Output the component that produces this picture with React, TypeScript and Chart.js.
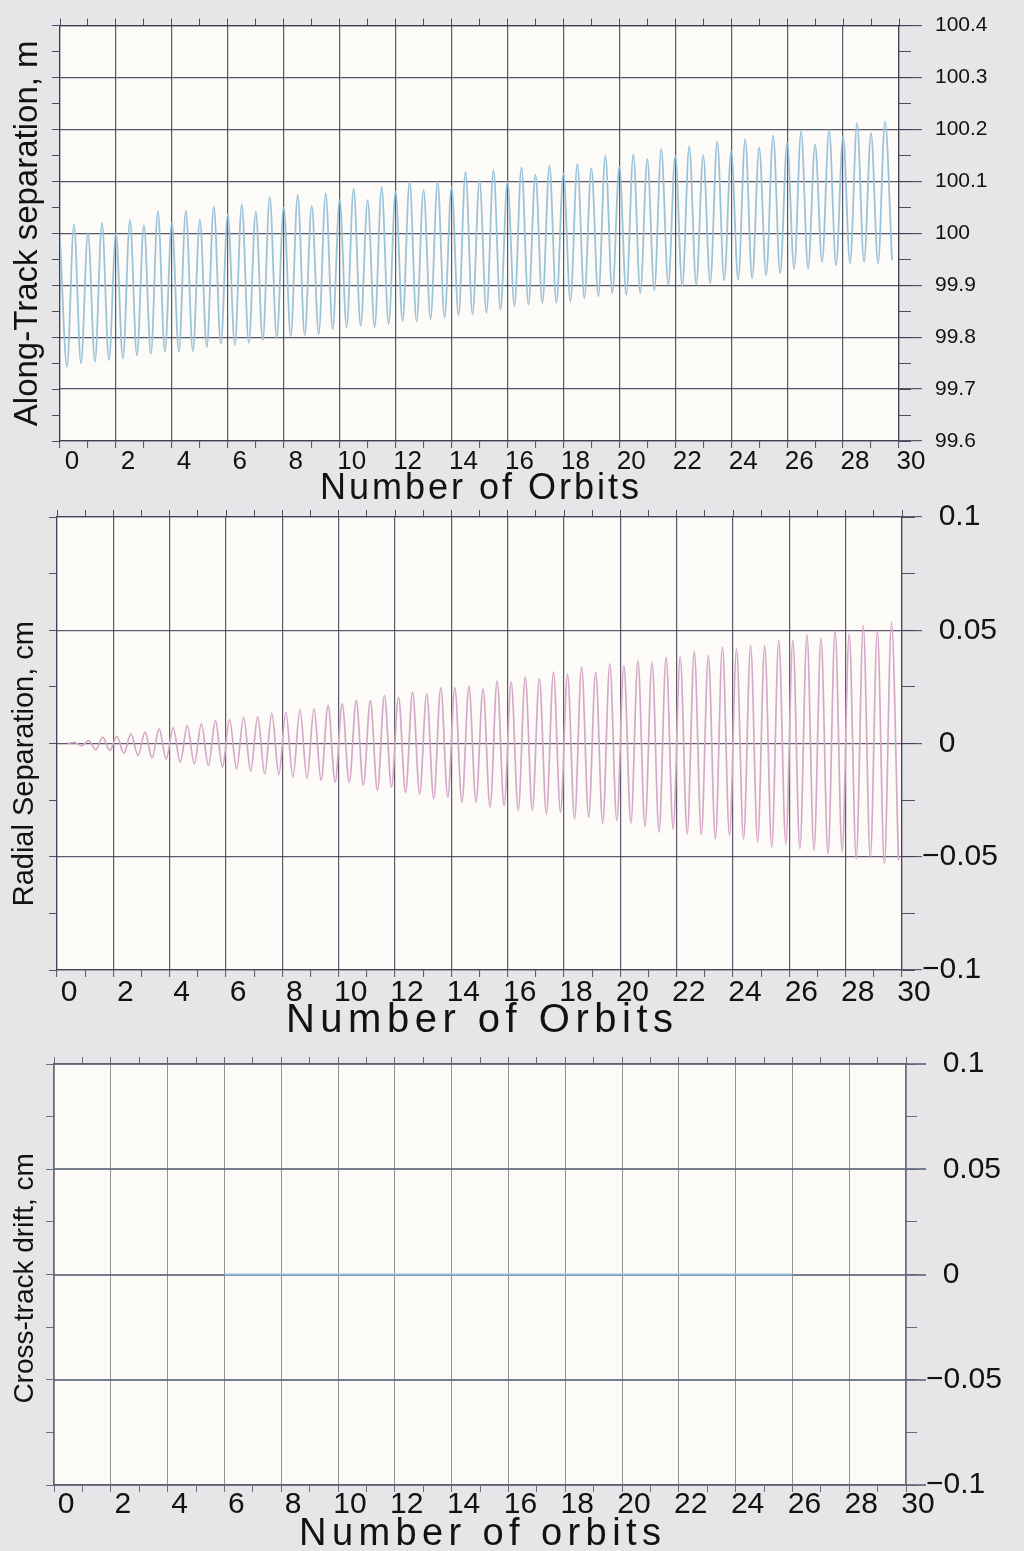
import React, { useEffect, useRef } from 'react';
import { Chart, registerables } from 'chart.js';

Chart.register(...registerables);

const FONT_FAMILY = '"Liberation Sans", Arial, Helvetica, sans-serif';
const TEXT_COLOR = '#121212';
const PAGE_BG = '#e6e6e8';
const PLOT_BG = '#fdfbf8';
const PAGE_WIDTH = 1024;

// Orbit axis: a tick mark at every orbit, a label and grid line every second orbit
const orbitTickMarks = [
  0, 1, 2, 3, 4, 5, 6, 7, 8, 9, 10, 11, 12, 13, 14, 15,
  16, 17, 18, 19, 20, 21, 22, 23, 24, 25, 26, 27, 28, 29, 30,
];
const orbitLabels = [0, 2, 4, 6, 8, 10, 12, 14, 16, 18, 20, 22, 24, 26, 28, 30];
const HALF_ORBIT = 0.5;

// Along-track separation (m): crests at 0, 0.5, 1.0 ... 29.5 orbits
const alongTrackCrests = [
  99.99, 100.017, 100.001, 100.02, 100.0, 100.026, 100.015, 100.042, 100.02, 100.043,
  100.026, 100.052, 100.036, 100.055, 100.041, 100.07, 100.05, 100.074, 100.053, 100.077,
  100.064, 100.086, 100.064, 100.089, 100.08, 100.099, 100.083, 100.099, 100.089, 100.118,
  100.102, 100.121, 100.099, 100.127, 100.113, 100.131, 100.115, 100.133, 100.125, 100.149,
  100.128, 100.152, 100.143, 100.162, 100.149, 100.168, 100.15, 100.177, 100.158, 100.181,
  100.165, 100.188, 100.174, 100.196, 100.171, 100.199, 100.187, 100.212, 100.193, 100.215,
];
// Along-track separation (m): troughs at 0.25, 0.75 ... 29.75 orbits
const alongTrackTroughs = [
  99.743, 99.75, 99.753, 99.756, 99.759, 99.765, 99.768, 99.772, 99.772, 99.773,
  99.781, 99.787, 99.785, 99.789, 99.794, 99.798, 99.801, 99.804, 99.806, 99.816,
  99.819, 99.822, 99.819, 99.825, 99.831, 99.83, 99.835, 99.838, 99.842, 99.844,
  99.847, 99.853, 99.86, 99.863, 99.866, 99.866, 99.869, 99.875, 99.879, 99.885,
  99.882, 99.885, 99.891, 99.901, 99.898, 99.901, 99.904, 99.91, 99.911, 99.913,
  99.919, 99.923, 99.932, 99.932, 99.945, 99.938, 99.942, 99.945, 99.942, 99.948,
];

// Radial separation (cm): crests at 0.125, 0.625 ... 29.625 orbits
const radialCrests = [
  null, 0.0005, 0.0013, 0.0028, 0.0032, 0.0043, 0.005, 0.0065, 0.0069, 0.0079,
  0.0087, 0.0101, 0.0105, 0.0116, 0.0119, 0.0134, 0.0138, 0.0149, 0.0153, 0.0168,
  0.0175, 0.019, 0.019, 0.0212, 0.0204, 0.0227, 0.0219, 0.0246, 0.0246, 0.0252,
  0.0241, 0.0275, 0.0271, 0.0293, 0.0285, 0.0315, 0.0305, 0.0337, 0.0315, 0.0352,
  0.0344, 0.0366, 0.0359, 0.0381, 0.0381, 0.0407, 0.0388, 0.0425, 0.0418, 0.0432,
  0.0432, 0.0455, 0.0455, 0.0481, 0.0465, 0.0499, 0.0484, 0.0521, 0.0499, 0.0535,
];
// Radial separation (cm): troughs at 0.375, 0.875 ... 29.875 orbits
const radialTroughs = [
  0, -0.001, -0.0028, -0.0031, -0.0043, -0.0053, -0.0063, -0.0068, -0.0082, -0.009,
  -0.0097, -0.0104, -0.0112, -0.0122, -0.0134, -0.0137, -0.0149, -0.0153, -0.0163, -0.0171,
  -0.0171, -0.0185, -0.0207, -0.0193, -0.0215, -0.0222, -0.0244, -0.0237, -0.0259, -0.0259,
  -0.0281, -0.0274, -0.0296, -0.0293, -0.031, -0.0303, -0.0332, -0.0325, -0.0352, -0.034,
  -0.0352, -0.0366, -0.0391, -0.0377, -0.0399, -0.0402, -0.0421, -0.0406, -0.0421, -0.0435,
  -0.0458, -0.0443, -0.0465, -0.0472, -0.0487, -0.0478, -0.0509, -0.0505, -0.0531, -0.0516,
];

// Cross-track drift (cm)
const crossTrackOrbits = [6, 10, 14, 18, 22, 26];
const crossTrackDrift = [0, 0, 0, 0, 0, 0];

// Y-axis tick labels
const alongTrackTicks = [99.6, 99.7, 99.8, 99.9, 100, 100.1, 100.2, 100.3, 100.4];
const radialTicks = [-0.1, -0.05, 0, 0.05, 0.1];
const crossTrackTicks = [-0.1, -0.05, 0, 0.05, 0.1];

type Pt = { x: number; y: number };

function alternate(
  crests: (number | null)[],
  crestStart: number,
  troughs: (number | null)[],
  troughStart: number,
): Pt[] {
  const pts: Pt[] = [];
  for (let k = 0; k < crests.length; k++) {
    const c = crests[k];
    const t = troughs[k];
    if (c !== null && c !== undefined) pts.push({ x: crestStart + k * HALF_ORBIT, y: c });
    if (t !== null && t !== undefined) pts.push({ x: troughStart + k * HALF_ORBIT, y: t });
  }
  return pts.sort((a, b) => a.x - b.x);
}

const fmtPlain = (v: number) => String(Number(v.toFixed(2)));
const fmtSigned = (v: number) => {
  const s = String(Number(v.toFixed(3)));
  return v < 0 ? '\u2212' + s.slice(1) : '  ' + s;
};

// Off-white plot area
const plotBackground = {
  id: 'plotBackground',
  beforeDraw(chart: any, _args: any, opts: any) {
    const { ctx, chartArea } = chart;
    if (!chartArea) return;
    ctx.save();
    ctx.fillStyle = opts.color || PLOT_BG;
    ctx.fillRect(chartArea.left, chartArea.top, chartArea.right - chartArea.left, chartArea.bottom - chartArea.top);
    ctx.restore();
  },
};

// Orbit-axis title, set with wide letter spacing
const spacedAxisTitle = {
  id: 'spacedAxisTitle',
  afterDraw(chart: any, _args: any, opts: any) {
    if (!opts || !opts.text) return;
    const { ctx, chartArea } = chart;
    ctx.save();
    ctx.font = `normal ${opts.size}px ${FONT_FAMILY}`;
    (ctx as any).letterSpacing = `${opts.spacing}px`;
    ctx.fillStyle = TEXT_COLOR;
    ctx.textAlign = 'center';
    ctx.textBaseline = 'middle';
    ctx.fillText(opts.text, (chartArea.left + chartArea.right) / 2 + opts.spacing / 2, opts.y);
    ctx.restore();
  },
};

type PanelSpec = {
  top: number;
  height: number;
  area: { left: number; right: number; top: number; bottom: number };
  series: Pt[];
  lineColor: string;
  lineWidth: number;
  yMin: number;
  yMax: number;
  yTicks: number[];
  yMinorStep: number;
  formatY: (v: number) => string;
  yTitle: string;
  yTitleSize: number;
  yTitlePad: number;
  xTitle: string;
  xTitleSize: number;
  xTitleSpacing: number;
  xTitleY: number;
  xTickSize: number;
  xTickPad: number;
  yTickSize: number;
  yTickPad: number;
  majorTickLen: number;
  minorTickLen: number;
  axisColor: string;
  hGridColor: string;
  hGridWidth: number;
  vGridColor: string;
  vGridWidth: number;
};

function buildConfig(s: PanelSpec): any {
  const a = s.area;
  const font = (size: number) => ({ family: FONT_FAMILY, size, weight: 'normal' as const });
  const orbitTicks = (sc: any) => {
    sc.ticks = orbitTickMarks.map((value) => ({ value }));
  };
  return {
    type: 'line',
    data: {
      datasets: [
        {
          data: s.series,
          borderColor: s.lineColor,
          borderWidth: s.lineWidth,
          pointRadius: 0,
          cubicInterpolationMode: 'monotone',
          fill: false,
          xAxisID: 'x',
          yAxisID: 'yMajor',
        },
      ],
    },
    options: {
      animation: false,
      responsive: false,
      events: [],
      layout: { padding: 0 },
      plugins: {
        legend: { display: false },
        tooltip: { enabled: false },
        plotBackground: { color: PLOT_BG },
        spacedAxisTitle: { text: s.xTitle, size: s.xTitleSize, spacing: s.xTitleSpacing, y: s.xTitleY },
      },
      scales: {
        x: {
          type: 'linear',
          position: 'bottom',
          min: 0,
          max: 30,
          afterBuildTicks: orbitTicks,
          afterFit: (sc: any) => {
            sc.height = s.height - a.bottom;
          },
          ticks: {
            autoSkip: false,
            maxRotation: 0,
            minRotation: 0,
            font: font(s.xTickSize),
            color: TEXT_COLOR,
            padding: s.xTickPad,
            labelOffset: 12,
            callback: (v: number) => (orbitLabels.includes(v) ? String(v) : ''),
          },
          grid: {
            color: (c: any) => (c.tick && orbitLabels.includes(c.tick.value) ? s.vGridColor : 'rgba(0,0,0,0)'),
            lineWidth: s.vGridWidth,
            tickColor: s.axisColor,
            tickWidth: 1,
            tickLength: 7,
          },
          border: { display: true, color: s.axisColor, width: 1.2 },
          title: { display: false },
        },
        xTop: {
          type: 'linear',
          position: 'top',
          min: 0,
          max: 30,
          afterBuildTicks: orbitTicks,
          afterFit: (sc: any) => {
            sc.height = a.top;
          },
          ticks: { display: false },
          grid: { drawOnChartArea: false, tickLength: 7, tickColor: s.axisColor, tickWidth: 1 },
          border: { display: true, color: s.axisColor, width: 1.2 },
        },
        yLeft: {
          type: 'linear',
          position: 'left',
          min: s.yMin,
          max: s.yMax,
          afterFit: (sc: any) => {
            sc.width = a.left;
          },
          ticks: { display: false, stepSize: s.yMinorStep },
          grid: { drawOnChartArea: false, tickLength: 8, tickColor: s.axisColor, tickWidth: 1 },
          border: { display: true, color: s.axisColor, width: 1.2 },
          title: {
            display: true,
            text: s.yTitle,
            font: font(s.yTitleSize),
            color: TEXT_COLOR,
            padding: { top: s.yTitlePad, bottom: 0 },
          },
        },
        yMinor: {
          type: 'linear',
          position: 'right',
          weight: 0,
          min: s.yMin,
          max: s.yMax,
          afterFit: (sc: any) => {
            sc.width = 0;
          },
          ticks: { display: false, stepSize: s.yMinorStep },
          grid: { drawOnChartArea: false, tickLength: s.minorTickLen, tickColor: s.axisColor, tickWidth: 1 },
          border: { display: false },
        },
        yMajor: {
          type: 'linear',
          position: 'right',
          weight: 1,
          min: s.yMin,
          max: s.yMax,
          afterBuildTicks: (sc: any) => {
            sc.ticks = s.yTicks.map((value) => ({ value }));
          },
          afterFit: (sc: any) => {
            sc.width = PAGE_WIDTH - a.right;
          },
          ticks: {
            font: font(s.yTickSize),
            color: TEXT_COLOR,
            padding: s.yTickPad,
            callback: (v: number) => s.formatY(v),
          },
          grid: {
            color: s.hGridColor,
            lineWidth: s.hGridWidth,
            tickLength: s.majorTickLen,
            tickColor: s.hGridColor,
            tickWidth: s.hGridWidth,
          },
          border: { display: true, color: s.axisColor, width: 1.2 },
        },
      },
    },
    plugins: [plotBackground, spacedAxisTitle],
  };
}

const alongTrackPanel: PanelSpec = {
  top: 0,
  height: 515,
  area: { left: 60, right: 899, top: 17, bottom: 441 },
  series: alternate(alongTrackCrests, 0, alongTrackTroughs, 0.25),
  lineColor: 'rgb(156,194,217)',
  lineWidth: 1.8,
  yMin: 99.6,
  yMax: 100.4,
  yTicks: alongTrackTicks,
  yMinorStep: 0.05,
  formatY: fmtPlain,
  yTitle: 'Along-Track separation, m',
  yTitleSize: 33,
  yTitlePad: 8,
  xTitle: 'Number of Orbits',
  xTitleSize: 36,
  xTitleSpacing: 3,
  xTitleY: 489,
  xTickSize: 26,
  xTickPad: -2,
  yTickSize: 21,
  yTickPad: 13,
  majorTickLen: 23,
  minorTickLen: 12,
  axisColor: 'rgba(55,60,80,0.9)',
  hGridColor: 'rgba(55,60,80,0.85)',
  hGridWidth: 1.2,
  vGridColor: 'rgba(55,60,80,0.85)',
  vGridWidth: 1.2,
};

const radialPanel: PanelSpec = {
  top: 495,
  height: 560,
  area: { left: 57, right: 902, top: 22, bottom: 475 },
  series: alternate(radialCrests, 0.125, radialTroughs, 0.375),
  lineColor: 'rgb(214,168,200)',
  lineWidth: 1.7,
  yMin: -0.1,
  yMax: 0.1,
  yTicks: radialTicks,
  yMinorStep: 0.025,
  formatY: fmtSigned,
  yTitle: 'Radial Separation, cm     ',
  yTitleSize: 29,
  yTitlePad: 8,
  xTitle: 'Number of Orbits',
  xTitleSize: 40,
  xTitleSpacing: 5.5,
  xTitleY: 526,
  xTickSize: 30,
  xTickPad: -2,
  yTickSize: 30,
  yTickPad: 0,
  majorTickLen: 20,
  minorTickLen: 13,
  axisColor: 'rgba(68,62,84,0.9)',
  hGridColor: 'rgba(68,62,84,0.85)',
  hGridWidth: 1.2,
  vGridColor: 'rgba(68,62,84,0.85)',
  vGridWidth: 1.2,
};

const crossTrackPanel: PanelSpec = {
  top: 1040,
  height: 511,
  area: { left: 54, right: 906, top: 24, bottom: 445 },
  series: crossTrackOrbits.map((x, i) => ({ x, y: crossTrackDrift[i] })),
  lineColor: 'rgb(150,190,215)',
  lineWidth: 2,
  yMin: -0.1,
  yMax: 0.1,
  yTicks: crossTrackTicks,
  yMinorStep: 0.025,
  formatY: fmtSigned,
  yTitle: 'Cross-track drift, cm ',
  yTitleSize: 28,
  yTitlePad: 8,
  xTitle: 'Number of orbits',
  xTitleSize: 38,
  xTitleSpacing: 5.4,
  xTitleY: 495,
  xTickSize: 30,
  xTickPad: -5,
  yTickSize: 30,
  yTickPad: 0,
  majorTickLen: 20,
  minorTickLen: 11,
  axisColor: 'rgba(90,95,110,0.9)',
  hGridColor: 'rgba(95,105,125,0.85)',
  hGridWidth: 2,
  vGridColor: 'rgba(120,120,130,0.8)',
  vGridWidth: 1,
};

function Panel({ spec }: { spec: PanelSpec }) {
  const ref = useRef<HTMLCanvasElement | null>(null);
  useEffect(() => {
    if (!ref.current) return;
    const chart = new Chart(ref.current, buildConfig(spec));
    return () => chart.destroy();
  }, [spec]);
  return (
    <canvas
      ref={ref}
      width={PAGE_WIDTH}
      height={spec.height}
      style={{ position: 'absolute', left: 0, top: spec.top, width: PAGE_WIDTH, height: spec.height }}
    />
  );
}

export default function App() {
  return (
    <div
      style={{
        position: 'absolute',
        left: 0,
        top: 0,
        width: PAGE_WIDTH,
        height: 1551,
        overflow: 'hidden',
        background: PAGE_BG,
      }}
    >
      <Panel spec={alongTrackPanel} />
      <Panel spec={radialPanel} />
      <Panel spec={crossTrackPanel} />
    </div>
  );
}
